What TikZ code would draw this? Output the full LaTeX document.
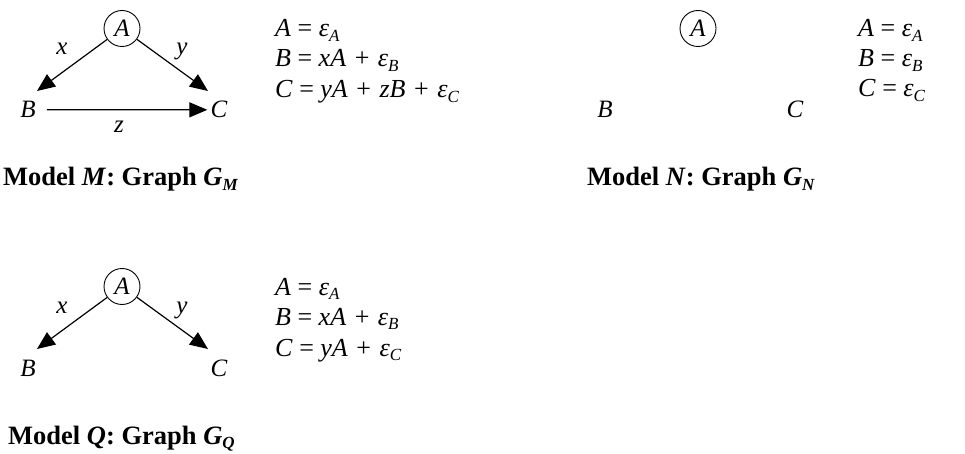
\documentclass[tikz,border=0pt]{standalone}
\usepackage{fontspec}
\setmainfont{Liberation Serif}
\usetikzlibrary{arrows.meta}
\newcommand\lowsub[1]{\raisebox{-0.35ex}{\fontsize{17}{17}\selectfont\textit{#1}}}
\newcommand\pl{\hspace{8.5pt}+\hspace{8.5pt}}
\begin{document}
\begin{tikzpicture}[x=1pt,y=-1pt, font=\fontsize{25}{28}\selectfont,
 arr/.style={-{Triangle[length=18pt,width=15pt]}, line width=1.2pt},
 var/.style={inner sep=3pt, anchor=base},
 lbl/.style={inner sep=0pt, anchor=base},
 circ/.style={draw, circle, line width=0.9pt, minimum size=36pt, inner sep=0pt},
 eq/.style={anchor=base west, inner sep=0pt, font=\fontsize{26}{30}\selectfont},
 captxt/.style={anchor=base west, inner sep=0pt, font=\fontsize{26.5}{30}\selectfont\bfseries}]
\useasboundingbox (0,0) rectangle (965,454);

% ---------- Model M ----------
\node[circ] (MA) at (122,28.5) {\textit{A}};
\node[var] (MB) at (28,118) {\textit{B}};
\node[var] (MC) at (219,118) {\textit{C}};
\coordinate (MBt) at (37,91);
\coordinate (MCt) at (208,91);
\draw[arr] (MA) -- (MBt);
\draw[arr] (MA) -- (MCt);
\draw[arr, shorten <=8pt] (MB) -- (MC);
\node[lbl] (Mx) at (62,55) {\textit{x}};
\node[lbl] (My) at (182,55) {\textit{y}};
\node[lbl] (Mz) at (119,133) {\textit{z}};
\node[eq] (Me1) at (275,37) {\textit{A} = \textit{ε}\lowsub{A}};
\node[eq] (Me2) at (275,67) {\textit{B} = \textit{xA}\pl{}\textit{ε}\lowsub{B}};
\node[eq] (Me3) at (275,98) {\textit{C} = \textit{yA}\pl{}\textit{zB}\pl{}\textit{ε}\lowsub{C}};
\node[captxt] (Mcap) at (3,186) {Model \textit{M}: Graph \textit{G}\lowsub{M}};

% ---------- Model N ----------
\node[circ] (NA) at (698,28.5) {\textit{A}};
\node[var] (NB) at (605,118) {\textit{B}};
\node[var] (NC) at (795,118) {\textit{C}};
\node[eq] (Ne1) at (858,37) {\textit{A} = \textit{ε}\lowsub{A}};
\node[eq] (Ne2) at (858,67) {\textit{B} = \textit{ε}\lowsub{B}};
\node[eq] (Ne3) at (858,97) {\textit{C} = \textit{ε}\lowsub{C}};
\node[captxt] (Ncap) at (587,186) {Model \textit{N}: Graph \textit{G}\lowsub{N}};

% ---------- Model Q ----------
\node[circ] (QA) at (122,286.5) {\textit{A}};
\node[var] (QB) at (28,376) {\textit{B}};
\node[var] (QC) at (219,376) {\textit{C}};
\coordinate (QBt) at (37,349);
\coordinate (QCt) at (208,349);
\draw[arr] (QA) -- (QBt);
\draw[arr] (QA) -- (QCt);
\node[lbl] (Qx) at (62,313) {\textit{x}};
\node[lbl] (Qy) at (182,313) {\textit{y}};
\node[eq] (Qe1) at (275,295) {\textit{A} = \textit{ε}\lowsub{A}};
\node[eq] (Qe2) at (275,325) {\textit{B} = \textit{xA}\pl{}\textit{ε}\lowsub{B}};
\node[eq] (Qe3) at (275,356) {\textit{C} = \textit{yA}\pl{}\textit{ε}\lowsub{C}};
\node[captxt] (Qcap) at (8,444) {Model \textit{Q}: Graph \textit{G}\lowsub{Q}};
\end{tikzpicture}
\end{document}
